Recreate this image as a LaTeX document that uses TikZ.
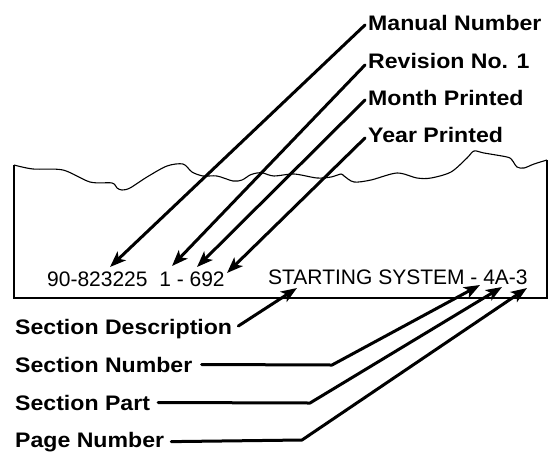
\documentclass[tikz,border=0pt]{standalone}
\usepackage{fontspec}
\setmainfont{Liberation Sans}
\newfontfamily\lblfont[FakeStretch=1.1]{Liberation Sans}
\usetikzlibrary{arrows.meta}
\tikzset{label text/.style={inner sep=0pt,anchor=base west,font=\lblfont\bfseries\fontsize{21}{24}\selectfont},
	code text/.style={inner sep=0pt,anchor=base west,font=\fontsize{21}{24}\selectfont},
	pointer/.style={line width=3pt,-{Stealth[length=16pt,width=12pt,inset=4pt]}},
	page edge/.style={line width=1.3pt,line join=miter}}

\begin{document}
\begin{tikzpicture}[x=1pt,y=-1pt]
		\useasboundingbox (0,0) rectangle (548,453);
		% torn page with the printed line
		\draw[page edge] (14,165) -- (14,298) -- (547,298) -- (547,160);
		\draw[line width=1.1pt] plot[smooth,tension=0.5] coordinates {(14,165) (33,169) (63,170)
			(90,182) (112,183) (117,188) (122,190) (130,188) (147,177) (167,166) (183,164)
			(192,172) (203,176) (217,176) (233,181) (242,180) (250,175) (257,173) (263,173)
			(274,176) (294,174) (317,178) (331,177) (341,174) (344,176) (354,182) (371,180)
			(397,173) (417,178) (431,178) (451,172) (467,158) (474,151) (484,153) (507,157)
			(512,160) (517,167) (524,168) (534,164) (547,160)};
		\begin{scope}[every node/.style={code text}]
			\node (codes) at (47,286) {90-823225\ \ 1 - 692};
			\node (sysname) at (268,284) {STARTING SYSTEM - 4A-3};
		\end{scope}
		\begin{scope}[every node/.style={label text}]
			\node (manual) at (368,30) {Manual Number};
			\node (revision) at (368,68) {Revision No. 1};
			\node (month) at (368,105) {Month Printed};
			\node (year) at (368,142) {Year Printed};
			\node (secdesc) at (15,334) {Section Description};
			\node (secnum) at (15,372) {Section Number};
			\node (secpart) at (15,410) {Section Part};
			\node (pagenum) at (15,447) {Page Number};
		\end{scope}
		% where the arrows point
		\coordinate (manualTip) at (110,267);
		\coordinate (revisionTip) at (172,266);
		\coordinate (monthTip) at (197,267);
		\coordinate (yearTip) at (227,273);
		\coordinate (secdescTip) at (297,288);
		\coordinate (secnumTip) at (480,285);
		\coordinate (secpartTip) at (502,287);
		\coordinate (pagenumTip) at (527,288);
		\coordinate (secnumBend) at (332,365);
		\coordinate (secpartBend) at (310,403);
		\coordinate (pagenumBend) at (302,440);
		\begin{scope}[line cap=round,line join=round]
			\draw[pointer] ([shift={(-3pt,5pt)}]manual.base west) -- (manualTip);
			\draw[pointer] ([shift={(-3pt,3pt)}]revision.base west) -- (revisionTip);
			\draw[pointer] ([shift={(-3pt,5pt)}]month.base west) -- (monthTip);
			\draw[pointer] ([shift={(-3pt,4pt)}]year.base west) -- (yearTip);
			\draw[pointer] ([shift={(6pt,8pt)}]secdesc.base east) -- (secdescTip);
			\draw[pointer] ([xshift=9pt]secnum.east) -- (secnumBend) -- (secnumTip);
			\draw[pointer] ([xshift=8pt]secpart.east) -- (secpartBend) -- (secpartTip);
			\draw[pointer] ([xshift=7pt]pagenum.east) -- (pagenumBend) -- (pagenumTip);
		\end{scope}
	\end{tikzpicture}
\end{document}
